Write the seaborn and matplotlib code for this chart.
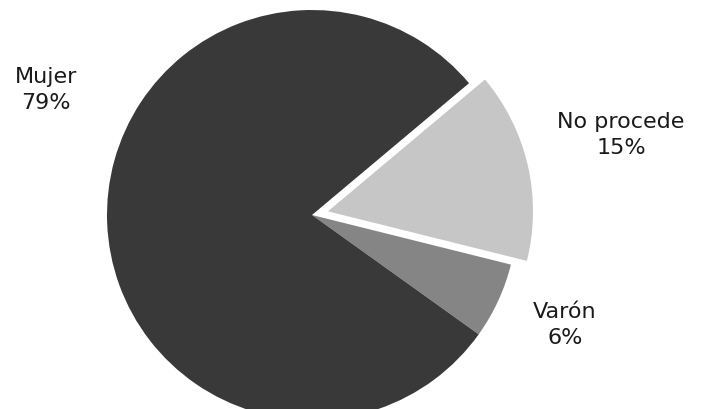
import matplotlib
matplotlib.use("Agg")
import matplotlib.pyplot as plt
import seaborn as sns

categories = ["No procede", "Varón", "Mujer"]
values = [15, 6, 79]
label_texts = ["No procede\n15%", "Varón\n6%", "Mujer\n79%"]
colors = ["#c6c6c6", "#858585", "#393939"]
explode = [0.08, 0, 0]

sns.set_style("white")
plt.rcParams['font.family'] = ['DejaVu Sans']

fig = plt.figure(figsize=(7.01, 4.10), dpi=100)
ax = fig.add_axes([0, 0, 1, 1])
ax.pie(values, colors=colors, explode=explode, startangle=40,
       counterclock=False, radius=1.0, wedgeprops=dict(linewidth=0))

# label positions (data units, 1 unit = pie radius)
label_pos = [(1.507, 0.395), (1.234, -0.531), (-1.298, 0.615)]
for (x, y), t in zip(label_pos, label_texts):
    ax.text(x, y, t, ha="center", va="center", fontsize=16,
            color="#1a1a1a", linespacing=1.35)

ax.set_xlim(-312 / 205, 389 / 205)
ax.set_ylim(-194 / 205, 216 / 205)
ax.set_aspect("equal", adjustable="datalim")
ax.axis("off")
fig.savefig("out.png", dpi=100, facecolor="white")
